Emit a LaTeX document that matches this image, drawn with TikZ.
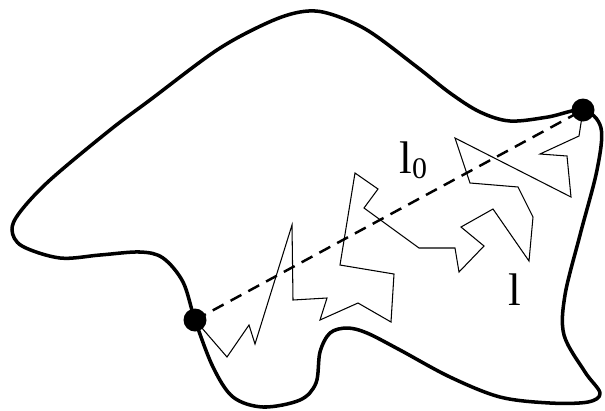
\documentclass[tikz,border=0pt]{standalone}
\usepackage{fontspec}
\setmainfont{Liberation Serif}
\usepackage{tikz}

\begin{document}
\begin{tikzpicture}[x=0.02cm,y=-0.02cm,
  outline/.style={line width=2pt,line join=round},
  walk/.style={line width=0.6pt,line join=miter},
  chord/.style={line width=1.4pt,dash pattern=on 7pt off 4.5pt},
  endpt/.style={circle,fill=black,inner sep=0pt,minimum size=0.46cm},
  lab/.style={inner sep=0pt,font=\fontsize{26}{28}\selectfont}]
\useasboundingbox (0,0) rectangle (605,410);
\draw[outline] plot[smooth cycle,tension=0.55] coordinates {
  (583,110) (601,128) (597,170) (580,235) (565,295) (564,335) (585,372)
  (600,393) (588,402) (550,403) (500,397) (450,377) (400,350) (367,333)
  (347,328) (330,333) (320,352) (316,383) (300,400) (263,407) (233,397)
  (213,367) (195,320) (183,282) (163,258) (140,252) (100,255) (60,258)
  (22,246) (12,230) (20,212) (50,180) (110,130) (150,100) (217,50)
  (267,23) (300,12) (327,13) (367,30) (417,67) (450,93) (480,112)
  (510,121) (548,117)};
\node[endpt] (start) at (195,320) {};
\node[endpt] (end) at (583,110) {};
\draw[chord] (start.center) -- (end.center);
\draw[walk] (start.center) -- (227,357) -- (249,325) -- (255,344) -- (292,225)
  -- (293,300) -- (327,298) -- (320,320) -- (358,303) -- (391,322)
  -- (394,274) -- (340,265) -- (355,173) -- (378,189) -- (364,208)
  -- (419,248) -- (455,248) -- (459,272) -- (484,246) -- (461,227)
  -- (493,209) -- (529,261) -- (533,217) -- (518,187) -- (470,183)
  -- (455,138) -- (571,197) -- (567,156) -- (540,154) -- (579,136)
  -- (end.center);
\node[lab,anchor=base west] (lzero) at (399,173) {l\raisebox{-0.25ex}{\fontsize{17}{17}\selectfont 0}};
\node[lab,anchor=base west] (lpath) at (508,305) {l};
\end{tikzpicture}
\end{document}
